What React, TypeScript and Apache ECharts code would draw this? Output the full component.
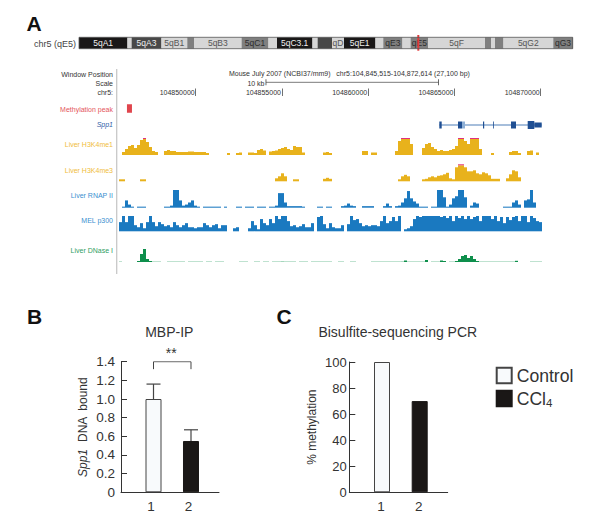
import React, { useEffect, useRef } from "react";
import * as echarts from "echarts";

const FONT = "'Liberation Sans', Arial, sans-serif";

// Panel A: ideogram bands [start, end, stain, label]
const ideogramBands: [number, number, number, string][] = [
  [0, 48.3, 100, "5qA1"], [48.3, 52.7, 0, ""], [52.7, 82.3, 75, "5qA3"], [82.3, 108.3, 0, "5qB1"],
  [108.3, 115, 50, ""], [115, 162.7, 0, "5qB3"], [162.7, 189.3, 50, "5qC1"], [189.3, 198, 0, ""],
  [198, 233.3, 100, "5qC3.1"], [233.3, 238.7, 0, ""], [238.7, 253, 75, ""], [253, 265, 0, "qD"],
  [265, 296.3, 100, "5qE1"], [296.3, 304.3, 0, ""], [304.3, 323.3, 50, "qE3"], [323.3, 331.7, 0, ""],
  [331.7, 349, 50, "qE5"], [349, 406, 0, "5qF"], [406, 412, 50, ""], [412, 416, 0, ""],
  [416, 424.3, 50, ""], [424.3, 474.3, 0, "5qG2"], [474.3, 493.7, 50, "qG3"],
];
const ideogramMarker = [339.3];

// Panel A: genome browser
const windowStart = 104845515;
const windowEnd = 104872614;
const rulerTicks = [104850000, 104855000, 104860000, 104865000, 104870000];
const scaleBar = [104854075, 104864075];
const methylationPeak: [number, number][] = [[104846017, 104846307]];
const spp1Intron = [104864122, 104870058];
const spp1Exons: [number, number, string][] = [
  [104864122, 104864261, "cds"], [104865206, 104865437, "cds"], [104865437, 104865611, "faint"],
  [104866655, 104866724, "cds"], [104867235, 104867281, "cds"], [104868278, 104868568, "cds"],
  [104869246, 104869629, "cds"], [104869629, 104870058, "utr"],
];

const h3k4me1 = [
  0, 3, 6, 9, 10, 7, 10, 15, 17, 13,
  8, 4, 3, 0, 0, 4, 5, 4, 4, 3,
  3, 3, 3, 3.5, 3.5, 3, 3, 3, 3, 2,
  0, 0, 0, 0, 0, 0, 2, 0, 0, 2,
  2.5, 0, 0, 2.5, 2.5, 2, 5, 6, 4.5, 0,
  3.5, 4, 4.5, 6, 7, 8, 6, 5, 9, 8,
  8, 2.5, 0, 0, 0, 0, 0, 0, 2.5, 3,
  2, 0, 0, 0, 0, 0, 0, 0, 0, 0,
  0, 4, 4, 0, 2.5, 2.5, 0, 0, 0, 0,
  0, 0, 4, 14, 17, 17, 17, 11, 0, 0,
  0, 7, 11, 12, 8, 6, 4, 5, 4, 4,
  5, 6, 9, 17, 17, 14, 11, 17, 17, 17,
  6, 0, 0, 0, 2, 0, 0, 0, 0, 0,
  3, 4, 4, 2, 0, 0, 4, 4.5, 0, 2.5, 0,
];
const h3k4me3 = [
  2, 2, 0, 0, 0, 0, 0, 2, 2, 0,
  0, 0, 0, 0, 0, 0, 0, 0, 0, 0,
  0, 0, 0, 0, 0, 0, 0, 0, 0, 0,
  0, 0, 0, 0, 0, 0, 0, 0, 0, 0,
  0, 0, 0, 0, 0, 0, 0, 0, 0, 0,
  0, 0, 3, 5, 8, 5, 0, 0, 2, 2,
  0, 0, 0, 0, 0, 0, 0, 0, 2.5, 3.5,
  2.5, 0, 0, 0, 0, 0, 0, 0, 0, 0,
  0, 0, 0, 0, 0, 0, 0, 0, 0, 0,
  0, 0, 0, 2, 5, 6.5, 5, 0, 0, 0,
  0, 2, 2.5, 4, 5, 4, 5.5, 6, 7, 8.5,
  3, 2, 14, 17, 17, 14, 10, 10, 11, 8,
  7, 9, 8, 6, 2.5, 2.5, 2.5, 0, 0, 3,
  7, 11, 10, 4, 0, 0, 0, 0, 0, 0, 0,
];
const rnapII = [
  0, 1, 7, 3, 1, 0, 1, 1, 1, 0,
  0, 0, 0, 0, 0, 1, 1, 2, 17, 17,
  7, 2, 3, 5, 7, 2, 1, 0, 1, 1,
  1, 1, 1, 1, 0, 1, 0, 0, 0, 1,
  1, 0, 1, 1, 1, 0, 1, 1, 1, 0,
  1, 1, 2, 14, 14, 5, 1.5, 1.5, 1.5, 1.5,
  1.5, 1, 0, 0, 0, 0, 1, 1, 0, 1,
  1, 0, 0, 0, 1.5, 2, 4, 2, 1.5, 0,
  0, 1.5, 1.5, 1.5, 1.5, 0, 0, 0, 1.5, 4,
  1.5, 0, 1.5, 2, 5, 9, 16, 9, 6, 4,
  1, 1, 1, 0, 1, 1, 17, 17, 10, 1,
  3, 9, 11, 17, 17, 10, 0, 2, 5, 4,
  0, 0, 0, 0, 0, 0, 0, 0, 1, 1,
  1, 5, 7, 3, 0, 7, 8, 17, 5, 0, 0,
];
const melP300 = [
  9, 15, 9, 15, 15, 6, 4, 8, 3, 9,
  15, 9, 5, 9, 7, 5, 6, 4, 9, 6,
  4, 6, 8, 4, 4, 3, 4, 4, 8, 6,
  4, 6, 7, 3, 6, 6, 0, 0, 3, 4,
  0, 0, 0, 3, 10, 6, 2, 12, 8, 6,
  12, 8, 15, 12, 15, 15, 10, 5, 6, 4,
  5, 7, 4, 4, 8, 0, 14, 15, 7, 3,
  8, 4, 3, 3, 6, 0, 7, 15, 11, 12,
  8, 5, 6, 5, 6, 6, 5, 10, 15, 8,
  10, 14, 10, 15, 0, 2, 3, 5, 12, 15,
  14, 15, 15, 15, 15, 15, 15, 14, 15, 13,
  15, 10, 15, 13, 15, 12, 15, 12, 14, 15,
  10, 15, 15, 15, 12, 15, 10, 14, 8, 14,
  11, 14, 15, 10, 15, 15, 9, 15, 13, 10, 9,
];
const dnaseI = [
  0.5, 0, 0, 0, 0, 0, 1, 8, 13, 3,
  1, 0.5, 0.5, 0.5, 0, 0, 0.5, 0.5, 0.5, 0.5,
  0.5, 0.5, 0, 0.5, 0.5, 0.5, 0.5, 0.5, 0, 0.5,
  0.5, 0, 0.5, 0.5, 0.5, 0, 0, 0, 0, 0,
  0.5, 0.5, 0.5, 0, 0, 0.5, 0.5, 0, 0.5, 0.5,
  0, 0.5, 0.5, 0.5, 0.7, 0.5, 0.5, 0.5, 0.5, 0,
  0.5, 0.5, 0.5, 0, 0.5, 0.5, 0.5, 0.5, 0.5, 0.5,
  0.5, 0, 0, 0.5, 0.5, 0, 0, 0.5, 0.5, 0,
  0, 0, 0, 0, 0.5, 0.5, 0.5, 0.5, 0.5, 0.5,
  0.5, 0.5, 0.5, 0.5, 0.6, 1.5, 0.5, 0.5, 0.5, 0.5,
  0.5, 0.5, 2, 0, 0.5, 0.5, 0.5, 1.5, 1, 0,
  0.5, 0.5, 1, 3, 6, 7, 4, 6, 3, 1,
  0.5, 0.5, 0.5, 0.5, 0.5, 0.5, 0.5, 0.5, 0.5, 0.5,
  0.5, 0.5, 1.2, 0, 0, 0, 0, 0.5, 0.5, 0.5, 0.5,
];

// Panel B
const mbpBars: [number, number][] = [[1, 1.0], [2, 0.55]];
const mbpErrorTops = [1.16, 0.67];
const mbpBracket = [[1, 1.32], [1, 1.4], [2, 1.4], [2, 1.32]];
const mbpTicks = [0, 0.2, 0.4, 0.6, 0.8, 1.0, 1.2, 1.4];

// Panel C
const controlMethylation: [number, number][] = [[1, 100]];
const ccl4Methylation: [number, number][] = [[2, 70]];
const sampleLabels = [1, 2];

const stainFill = (s: number) => (s >= 100 ? "#1a1818" : s >= 75 ? "#484848" : s >= 50 ? "#7f7f7f" : "#d6d6d6");
const stainText = (s: number) => (s >= 75 ? "#f0f0f0" : s >= 50 ? "#2c2c2c" : "#555555");
const C_DARK = "#1a1716";
const C_LIGHT = "#f8fafc";
const C_STROKE = "#444444";

function trackSeries(name: string, values: number[], gridIdx: number, color: string, capped: boolean, faint?: string) {
  const main = {
    type: "bar", name, xAxisIndex: gridIdx, yAxisIndex: gridIdx, stack: name,
    barCategoryGap: "0%", silent: true,
    itemStyle: { color: faint ? (p: any) => (p.value < 1 ? faint : color) : color },
    data: values.map((v) => (capped ? Math.min(v, 16) : v)),
  };
  if (!capped) return [main];
  return [main, {
    type: "bar", name: name + " saturated", xAxisIndex: gridIdx, yAxisIndex: gridIdx, stack: name,
    barCategoryGap: "0%", silent: true,
    itemStyle: { color: "#e2307c" },
    data: values.map((v) => (v >= 17 ? 1 : 0)),
  }];
}

const label = (text: string, y: number, fill: string, extra: any = {}) => ({
  type: "text", silent: true, x: 113, y,
  style: { text, fill, font: `${extra.fontStyle || "normal"} 7px ${FONT}`, align: "right", verticalAlign: "middle" },
});
const freeText = (text: string, x: number, y: number, font: string, fill: string, align = "left") => ({
  type: "text", silent: true, x, y,
  style: { text, fill, font: `${font} ${FONT}`, align, verticalAlign: "middle" },
});

export default function App() {
  const ref = useRef<HTMLDivElement>(null);
  useEffect(() => {
    if (!ref.current) return;
    const chart = echarts.init(ref.current, undefined, { renderer: "svg" });
    const binIndex = h3k4me1.map((_, i) => String(i));
    const trackAxis = (gridIndex: number, max: number) => ({
      x: { type: "category", gridIndex, data: binIndex, show: false },
      y: { type: "value", gridIndex, min: 0, max, show: false },
    });
    const tracks = [
      { top: 138, h: 17, max: 17 }, { top: 164.3, h: 17, max: 17 },
      { top: 190, h: 17.7, max: 17 }, { top: 216, h: 15.3, max: 15 }, { top: 249, h: 13, max: 13 },
    ];
    const grid: any[] = [
      { left: 79, width: 493.7, top: 37.3, height: 11.4 },
      { left: 118.3, width: 467.5, top: 78, height: 18 },
      { left: 118.3, width: 467.5, top: 100, height: 32 },
      ...tracks.map((t) => ({ left: 119, width: 423, top: t.top, height: t.h })),
      { left: 121, width: 98, top: 361.7, height: 130.6 },
      { left: 349.3, width: 98.4, top: 362, height: 130.3 },
    ];
    const genomicAxis = (gridIndex: number, show: boolean) => ({
      type: "value", gridIndex, min: windowStart, max: windowEnd, show, splitLine: { show: false },
      axisLine: { show: false },
      axisTick: { show, inside: true, length: 7.5, lineStyle: { color: "#333", width: 0.7 }, customValues: rulerTicks },
      axisLabel: {
        show, inside: true, margin: 0.5, align: "right", fontSize: 7, color: "#333", fontFamily: FONT,
        padding: [0, 1, 0, 0], customValues: rulerTicks, formatter: (v: number) => String(v),
      },
    });
    const hiddenY = (gridIndex: number) => ({ type: "value", gridIndex, min: 0, max: 1, show: false });
    const sampleAxis = (gridIndex: number, min: number, max: number, pad: number) => ({
      type: "value", gridIndex, min, max, splitLine: { show: false },
      axisLine: { show: true, onZero: false, lineStyle: { color: "#333", width: 1 } },
      axisTick: { show: false },
      axisLabel: {
        customValues: sampleLabels, fontSize: 13.5, color: "#333", margin: 7, fontFamily: FONT,
        padding: [0, pad, 0, 0], formatter: (v: number) => String(v),
      },
    });
    const valueAxisStyle = {
      axisLine: { show: true, lineStyle: { color: "#333", width: 1 } },
      axisTick: { show: true, inside: true, length: 6, lineStyle: { color: "#333", width: 1 } },
      splitLine: { show: false },
    };

    const annotRect = (api: any, params: any, s: number, e: number, cy: number, h: number, fill: string) => {
      const a = api.coord([s, 0])[0];
      const b = api.coord([e, 0])[0];
      return { type: "rect", shape: { x: a, y: params.coordSys.y + cy - h / 2, width: Math.max(b - a, 0.8), height: h }, style: { fill } };
    };

    const option: any = {
      animation: false,
      backgroundColor: "#ffffff",
      textStyle: { fontFamily: FONT },
      legend: {
        left: 495.7, top: 366.5, orient: "vertical", data: ["Control", "CCl4"], padding: 0,
        icon: "rect", itemWidth: 15, itemHeight: 15.5, itemGap: 5, selectedMode: false,
        formatter: (n: string) => (n === "CCl4" ? "CCl{sub|4}" : n),
        textStyle: {
          fontSize: 17.6, color: "#333", fontFamily: FONT,
          rich: { sub: { fontSize: 11.5, color: "#333", fontFamily: FONT, padding: [9, 0, 0, 0] } },
        },
      },
      grid,
      xAxis: [
        { type: "value", gridIndex: 0, min: 0, max: 493.7, show: false },
        genomicAxis(1, true),
        genomicAxis(2, false),
        ...tracks.map((t, i) => trackAxis(3 + i, t.max).x),
        sampleAxis(8, 0.1333, 2.7467, 5),
        sampleAxis(9, 0.1326, 2.7426, 2),
      ],
      yAxis: [
        hiddenY(0), hiddenY(1), hiddenY(2),
        ...tracks.map((t, i) => trackAxis(3 + i, t.max).y),
        {
          type: "value", gridIndex: 8, min: 0, max: 1.4, interval: 0.2, ...valueAxisStyle,
          axisLabel: {
            fontSize: 13.5, color: "#333", margin: 6, fontFamily: FONT,
            formatter: (v: number) => (mbpTicks.includes(+v.toFixed(1)) && v !== 0 ? v.toFixed(1) : "0"),
          },
          name: "{i|Spp1}  DNA  bound", nameLocation: "middle", nameGap: 32, nameRotate: 90,
          nameTextStyle: {
            fontSize: 12, color: "#333", fontFamily: FONT,
            rich: { i: { fontStyle: "italic", fontSize: 12, color: "#333", fontFamily: FONT } },
          },
        },
        {
          type: "value", gridIndex: 9, min: 0, max: 100, interval: 20, ...valueAxisStyle,
          axisLabel: { fontSize: 13, color: "#333", margin: 2.5, fontFamily: FONT },
          name: "% methylation", nameLocation: "middle", nameGap: 31, nameRotate: 90,
          nameTextStyle: { fontSize: 12, color: "#333", fontFamily: FONT },
        },
      ],
      series: [
        {
          type: "custom", name: "Ideogram", xAxisIndex: 0, yAxisIndex: 0, silent: true,
          data: ideogramBands.map((b) => [b[0], b[1], b[2]]),
          encode: { x: [0, 1] },
          renderItem: (params: any, api: any) => {
            const [s, e, stain, text] = ideogramBands[params.dataIndex];
            const a = api.coord([s, 0])[0];
            const b = api.coord([e, 0])[0];
            const cs = params.coordSys;
            const children: any[] = [{ type: "rect", shape: { x: a, y: cs.y, width: b - a + 0.3, height: cs.height }, style: { fill: stainFill(stain) } }];
            if (text) {
              children.push({
                type: "text",
                style: { text, x: (a + b) / 2, y: cs.y + cs.height / 2, align: "center", verticalAlign: "middle", fill: stainText(stain), font: `8.5px ${FONT}` },
              });
            }
            return { type: "group", children };
          },
        },
        {
          type: "custom", name: "Ideogram position", xAxisIndex: 0, yAxisIndex: 0, silent: true, z: 5,
          data: ideogramMarker.map((v) => [v]), encode: { x: 0 },
          renderItem: (params: any, api: any) => {
            const cs = params.coordSys;
            return { type: "rect", shape: { x: api.coord([api.value(0), 0])[0] - 1, y: cs.y - 2.3, width: 2, height: cs.height + 4.3 }, style: { fill: "#e23b3b" } };
          },
        },
        {
          type: "line", name: "Scale", xAxisIndex: 1, yAxisIndex: 1, silent: true,
          data: scaleBar.map((x) => [x, 0.76]), symbol: "rect", symbolSize: [0.8, 6],
          itemStyle: { color: "#444" }, lineStyle: { color: "#444", width: 0.7 },
        },
        {
          type: "custom", name: "Methylation peak", xAxisIndex: 2, yAxisIndex: 2, silent: true,
          data: methylationPeak, encode: { x: [0, 1] },
          renderItem: (params: any, api: any) => annotRect(api, params, api.value(0), api.value(1), 8.5, 8.4, "#e0454d"),
        },
        {
          type: "custom", name: "Spp1", xAxisIndex: 2, yAxisIndex: 2, silent: true,
          data: [spp1Intron], encode: { x: [0, 1] },
          renderItem: (params: any, api: any) => annotRect(api, params, api.value(0), api.value(1), 25, 1, "#4f7fb8"),
        },
        {
          type: "custom", name: "Spp1 exons", xAxisIndex: 2, yAxisIndex: 2, silent: true,
          data: spp1Exons.map((e) => [e[0], e[1]]), encode: { x: [0, 1] },
          renderItem: (params: any, api: any) => {
            const kind = spp1Exons[params.dataIndex][2];
            return annotRect(api, params, api.value(0), api.value(1), 25,
              kind === "utr" ? 5 : params.dataIndex >= 6 ? 8 : 7, kind === "faint" ? "#8fb0d6" : "#1f4f93");
          },
        },
        ...trackSeries("Liver H3K4me1", h3k4me1, 3, "#e8b21c", true),
        ...trackSeries("Liver H3K4me3", h3k4me3, 4, "#e8b21c", true),
        ...trackSeries("Liver RNAP II", rnapII, 5, "#1a79c0", false),
        ...trackSeries("MEL p300", melP300, 6, "#1a79c0", false),
        ...trackSeries("Liver DNase I", dnaseI, 7, "#0e8f4c", false, "#7fc4a0"),
        {
          type: "bar", name: "MBP-IP", xAxisIndex: 8, yAxisIndex: 8, barWidth: 16, silent: true,
          data: mbpBars.map((d, i) => ({
            value: d,
            itemStyle: { color: i === 0 ? C_LIGHT : C_DARK, borderColor: i === 0 ? C_STROKE : C_DARK, borderWidth: 1 },
          })),
        },
        {
          type: "custom", name: "MBP-IP error", xAxisIndex: 8, yAxisIndex: 8, silent: true, z: 1,
          data: mbpBars.map((d, i) => [d[0], d[1], mbpErrorTops[i]]), encode: { x: 0, y: [1, 2] },
          renderItem: (_: any, api: any) => {
            const b = api.coord([api.value(0), api.value(1)]);
            const t = api.coord([api.value(0), api.value(2)]);
            const style = { stroke: C_STROKE, lineWidth: 1.2, fill: "none" };
            return {
              type: "group", children: [
                { type: "line", shape: { x1: b[0], y1: b[1], x2: t[0], y2: t[1] }, style },
                { type: "line", shape: { x1: t[0] - 7, y1: t[1], x2: t[0] + 7, y2: t[1] }, style },
              ],
            };
          },
        },
        {
          type: "line", name: "Significance", xAxisIndex: 8, yAxisIndex: 8, silent: true, symbol: "none",
          data: mbpBracket, lineStyle: { color: C_STROKE, width: 1 },
        },
        {
          type: "bar", name: "Control", xAxisIndex: 9, yAxisIndex: 9, barWidth: 16, barGap: "-100%", silent: true,
          data: controlMethylation, itemStyle: { color: C_LIGHT, borderColor: C_STROKE, borderWidth: 1 },
        },
        {
          type: "bar", name: "CCl4", xAxisIndex: 9, yAxisIndex: 9, barWidth: 16, barGap: "-100%", silent: true,
          data: ccl4Methylation, itemStyle: { color: C_DARK, borderColor: C_DARK, borderWidth: 1 },
        },
      ],
      graphic: [
        freeText("A", 26.5, 23, "bold 21px", "#111"),
        freeText("B", 27, 316, "bold 21px", "#111"),
        freeText("C", 276.5, 316, "bold 21px", "#111"),
        freeText("chr5 (qE5)", 34, 43.7, "9px", "#444"),
        { type: "rect", silent: true, z: 10, shape: { x: 79, y: 37.3, width: 493.7, height: 11.4 }, style: { fill: "none", stroke: "#555", lineWidth: 0.8 } },
        { type: "line", silent: true, shape: { x1: 116.7, y1: 69, x2: 116.7, y2: 274 }, style: { stroke: "#c8c8c8", lineWidth: 1.3 } },
        label("Window Position", 74, "#333"),
        label("Scale", 83, "#333"),
        label("chr5:", 92.5, "#333"),
        label("Methylation peak", 109.7, "#e4555c"),
        label("Spp1", 124.3, "#3060a8", { fontStyle: "italic" }),
        label("Liver H3K4me1", 144.7, "#f0bd3c"),
        label("Liver H3K4me3", 170.7, "#f0bd3c"),
        label("Liver RNAP II", 195.7, "#3a8fcf"),
        label("MEL p300", 220.7, "#3a8fcf"),
        label("Liver DNase I", 250.7, "#2f9e62"),
        freeText("Mouse July 2007 (NCBI37/mm9)   chr5:104,845,515-104,872,614 (27,100 bp)", 229, 73.5, "7px", "#333"),
        freeText("10 kb", 264.5, 83, "7px", "#333", "right"),
        freeText("MBP-IP", 169.3, 331.7, "14px", "#333", "center"),
        freeText("**", 171.3, 353, "14px", "#333", "center"),
        freeText("Bisulfite-sequencing PCR", 397.8, 331.7, "14px", "#333", "center"),
      ],
    };
    chart.setOption(option);
    return () => chart.dispose();
  }, []);
  return <div ref={ref} style={{ position: "absolute", left: 0, top: 0, width: 600, height: 531 }} />;
}
